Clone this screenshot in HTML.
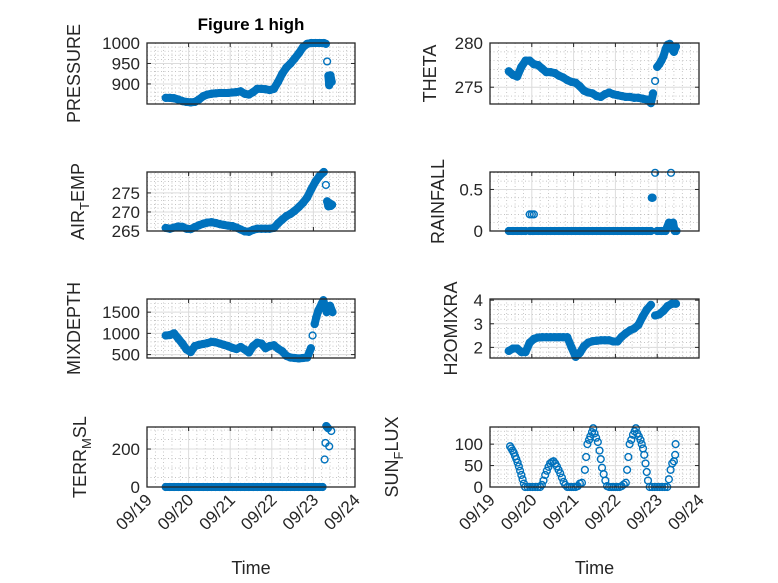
<!DOCTYPE html>
<html><head><meta charset="utf-8"><style>
html,body{margin:0;padding:0;background:#fff;}
svg{display:block;font-family:"Liberation Sans","DejaVu Sans",sans-serif;}
</style></head><body>
<svg id="fig" width="778" height="583" viewBox="0 0 778 583">
<rect width="778" height="583" fill="#fff"/>
<text x="251" y="30" text-anchor="middle" font-weight="bold" font-size="17" fill="#000">Figure 1 high</text>
</svg>
<script>
// shared main time base (days after 09/19)
const tMain = [0.45,0.55,0.65,0.75,0.85,0.95,1.05,1.15,1.25,1.35,1.45,1.55,1.65,1.75,1.85,1.95,2.05,2.15,2.25,2.35,2.45,2.55,2.65,2.75,2.85,2.95,3.05,3.15,3.25,3.35,3.45,3.55,3.65,3.75,3.85];
const xTickLabels = ["09/19","09/20","09/21","09/22","09/23","09/24"];

const pressureV = [866,866,865,862,858,856,855,856,862,870,874,876,877,878,878,878,879,880,882,876,874,880,888,888,887,885,888,905,925,940,950,962,975,990,998];
const pressureTailT = [3.95,4.05,4.15,4.25,4.3,4.33,4.36,4.38,4.41,4.44];
const pressureTailV = [1000,1000,1000,1000,998,955,920,897,921,905];

const thetaV = [276.8,276.4,276.2,277.3,278,278,277.6,277.5,277.1,276.7,276.7,276.6,276.3,276.1,275.8,275.6,275.5,275.1,274.6,274.4,274.3,274.0,273.9,274.2,274.4,274.2,274.1,274.0,273.9,273.9,273.8,273.8,273.7,273.6,273.2];
const thetaTailT = [3.9,3.95,4.0,4.05,4.1,4.15,4.2,4.25,4.3,4.35,4.4,4.45];
const thetaTailV = [274.3,275.7,277.3,277.6,278,278.5,279.3,279.8,279.9,279.3,279,279.6];

const airV = [265.8,265.6,265.9,266.2,266.1,265.6,265.5,266,266.5,266.9,267.2,267.3,267.1,266.8,266.6,266.4,266.3,265.9,265.4,264.9,264.8,265.3,265.6,265.6,265.6,265.6,265.8,267,268,268.9,269.5,270.3,271.3,272.4,273.8];
const airTailT = [3.95,4.05,4.15,4.25,4.3,4.33,4.36,4.39,4.42,4.45];
const airTailV = [276,278,279.5,280.5,277.1,272.8,271.5,272.3,271.6,271.9];

const rainV = [0,0,0,0,0,0.2,0.2,0,0,0,0,0,0,0,0,0,0,0,0,0,0,0,0,0,0,0,0,0,0,0,0,0,0,0,0];
const rainTailT = [0.97,1.0,1.02,0.95,1.05,3.87,3.89,3.95,4.0,4.1,4.2,4.28,4.33,4.38,4.42,4.46];
const rainTailV = [0,0.2,0,0,0,0.4,0.4,0.7,0,0,0,0.1,0.7,0.1,0,0];

const mixV = [950,960,1000,880,760,620,560,700,730,750,770,800,790,760,730,700,660,630,680,620,550,700,780,760,650,700,720,640,580,470,430,420,410,420,430];
const mixTailT = [3.94,3.98,4.03,4.07,4.12,4.2,4.24,4.28,4.32,4.4,4.46];
const mixTailV = [650,950,1220,1380,1540,1700,1780,1620,1500,1650,1500];

const h2oV = [1.85,1.95,1.95,1.8,1.8,2.2,2.36,2.42,2.43,2.43,2.43,2.43,2.43,2.43,2.43,2.0,1.6,1.77,2.05,2.2,2.26,2.28,2.3,2.3,2.3,2.25,2.25,2.45,2.6,2.72,2.8,2.95,3.3,3.6,3.8];
const h2oTailT = [3.95,4.05,4.15,4.25,4.35,4.45];
const h2oTailV = [3.35,3.4,3.55,3.75,3.85,3.85];

const terrV = [0,0,0,0,0,0,0,0,0,0,0,0,0,0,0,0,0,0,0,0,0,0,0,0,0,0,0,0,0,0,0,0,0,0,0];
const terrTailT = [3.95,4.05,4.15,4.22,4.27,4.29,4.31,4.35,4.38,4.43];
const terrTailV = [0,0,0,0,145,232,321,310,214,295];

const sunT = [0.48,0.51,0.54,0.57,0.60,0.63,0.66,0.69,0.72,0.75,0.78,0.81,0.84,0.9,0.96,1.02,1.08,1.14,1.2,1.24,1.28,1.32,1.36,1.40,1.44,1.48,1.52,1.56,1.60,1.64,1.68,1.72,1.76,1.80,1.85,1.9,1.95,2.0,2.05,2.1,2.15,2.2,2.27,2.3,2.33,2.37,2.4,2.44,2.47,2.5,2.54,2.58,2.62,2.65,2.68,2.72,2.76,2.8,2.85,2.9,2.95,3.0,3.05,3.1,3.15,3.2,3.25,3.28,3.31,3.34,3.38,3.42,3.46,3.49,3.52,3.56,3.6,3.63,3.66,3.69,3.72,3.75,3.78,3.82,3.88,3.94,4.0,4.06,4.12,4.18,4.24,4.28,4.32,4.36,4.4,4.43,4.44];
const sunV = [95,90,85,80,72,65,57,48,38,28,18,8,0,0,0,0,0,0,0,5,15,28,38,47,55,58,60,55,48,40,32,22,12,5,0,0,0,0,0,2,8,10,40,70,100,110,118,128,137,125,115,105,85,65,45,30,15,2,0,0,0,0,0,0,2,6,10,40,70,100,110,122,130,137,125,118,110,100,90,75,55,35,15,0,0,0,0,0,0,0,0,18,40,55,60,75,100];

const svg = document.getElementById('fig');
const NS = 'http://www.w3.org/2000/svg';
function mk(tag, attrs, parent){const e=document.createElementNS(NS,tag);for(const k in attrs)e.setAttribute(k,attrs[k]);(parent||svg).appendChild(e);return e;}

function panel(o){
  const g = mk('g',{});
  
  
  const X = d => o.x0 + d/5*(o.x1-o.x0);
  const Y = v => o.y1 - (v-o.ymin)/(o.ymax-o.ymin)*(o.y1-o.y0);
  for(let d=0.2; d<5; d+=0.2){ if(Math.abs(d-Math.round(d))<1e-6) continue;
    mk('line',{x1:X(d),x2:X(d),y1:o.y0,y2:o.y1,stroke:'#b0b0b0','stroke-width':0.7,'stroke-dasharray':'1,2.5'},g);}
  for(let v=Math.ceil(o.ymin/o.minor)*o.minor; v<o.ymax; v+=o.minor){
    mk('line',{x1:o.x0,x2:o.x1,y1:Y(v),y2:Y(v),stroke:'#b0b0b0','stroke-width':0.7,'stroke-dasharray':'1,2.5'},g);}
  for(let d=1; d<5; d++) mk('line',{x1:X(d),x2:X(d),y1:o.y0,y2:o.y1,stroke:'#dcdcdc','stroke-width':1},g);
  o.ticks.forEach(v=>{ mk('line',{x1:o.x0,x2:o.x1,y1:Y(v),y2:Y(v),stroke:'#dcdcdc','stroke-width':1},g);
    mk('line',{x1:o.x0,x2:o.x0+4,y1:Y(v),y2:Y(v),stroke:'#262626','stroke-width':1},g);
    mk('line',{x1:o.x1,x2:o.x1-4,y1:Y(v),y2:Y(v),stroke:'#262626','stroke-width':1},g);
    const t=mk('text',{x:o.x0-7,y:Y(v)+6,'text-anchor':'end','font-size':17,fill:'#262626'},g);
    t.textContent=String(v);
    
    
  });
  for(let d=0; d<=5; d++){ mk('line',{x1:X(d),x2:X(d),y1:o.y1,y2:o.y1-4,stroke:'#262626','stroke-width':1},g);
    mk('line',{x1:X(d),x2:X(d),y1:o.y0,y2:o.y0+4,stroke:'#262626','stroke-width':1},g);}
  const ts = o.t, vs = o.v;
  if(o.dense){
    const idx = ts.map((t,i)=>i).sort((a,b)=>ts[a]-ts[b]);
    for(let k=1;k<idx.length;k++){
      const a=idx[k-1], b=idx[k];
      const dx=X(ts[b])-X(ts[a]), dy=Y(vs[b])-Y(vs[a]);
      if(Math.hypot(dx,dy)<11){
        const s=mk('line',{x1:X(ts[a]),y1:Y(vs[a]),x2:X(ts[b]),y2:Y(vs[b]),stroke:'#0072BD','stroke-width':8,'stroke-linecap':'round'},g);
        
        
      }
    }
  }
  for(let i=0;i<ts.length;i++){
    const c = mk('circle',{cx:X(ts[i]),cy:Y(vs[i]),r:3.4,fill:'none',stroke:'#0072BD','stroke-width':1.4},g);
    
    
  }
  mk('rect',{x:o.x0,y:o.y0,width:o.x1-o.x0,height:o.y1-o.y0,fill:'none',stroke:'#262626','stroke-width':1.3},g);
  if(o.label){
  const lab = mk('text',{transform:`translate(${o.lx},${(o.y0+o.y1)/2}) rotate(-90)`,'text-anchor':'middle','font-size':18,fill:'#262626'},g);
  
  
  if(o.sub){ const a=mk('tspan',{},lab);a.textContent=o.label[0];
    const b=mk('tspan',{'font-size':13,dy:5},lab);b.textContent=o.label[1];
    const c=mk('tspan',{dy:-5},lab);c.textContent=o.label[2]; }
  else lab.textContent=o.label;
  }
  if(o.xlabels){
    for(let d=0; d<=5; d++){
      const t=mk('text',{transform:`translate(${X(d)+6},${o.y1+14}) rotate(-45)`,'text-anchor':'end','font-size':17,fill:'#262626'},g);
      t.textContent=xTickLabels[d];
      
      
    }
    const tl=mk('text',{x:(o.x0+o.x1)/2,y:574,'text-anchor':'middle','font-size':18,fill:'#262626'},g);
    tl.textContent='Time';
    
    
  }
}
const L=[147,355], R=[490,699];
const r1=[43,104], r2=[172,231], r3=[299,358], r4=[427,487];
panel({name:'pressure',dense:true,x0:L[0],x1:L[1],y0:r1[0],y1:r1[1],ymin:851,ymax:1000,ticks:[900,950,1000],minor:10,t:tMain.concat(pressureTailT),v:pressureV.concat(pressureTailV),label:'PRESSURE',lx:80});
panel({name:'theta',dense:true,x0:R[0],x1:R[1],y0:r1[0],y1:r1[1],ymin:273.1,ymax:280,ticks:[275,280],minor:1,t:tMain.concat(thetaTailT),v:thetaV.concat(thetaTailV),label:'THETA',lx:436});
panel({name:'air-temp',dense:true,x0:L[0],x1:L[1],y0:r2[0],y1:r2[1],ymin:265,ymax:280.5,ticks:[265,270,275],minor:1,t:tMain.concat(airTailT),v:airV.concat(airTailV),label:['AIR','T','EMP'],sub:true,lx:84});
panel({name:'rainfall',dense:true,x0:R[0],x1:R[1],y0:r2[0],y1:r2[1],ymin:0,ymax:0.71,ticks:[0,0.5],minor:0.1,t:tMain.concat(rainTailT),v:rainV.concat(rainTailV),label:'RAINFALL',lx:444});
panel({name:'mixdepth',dense:true,x0:L[0],x1:L[1],y0:r3[0],y1:r3[1],ymin:420,ymax:1810,ticks:[500,1000,1500],minor:100,t:tMain.concat(mixTailT),v:mixV.concat(mixTailV),label:'MIXDEPTH',lx:80});
panel({name:'h2omixra',dense:true,x0:R[0],x1:R[1],y0:r3[0],y1:r3[1],ymin:1.55,ymax:4.05,ticks:[2,3,4],minor:0.2,t:tMain.concat(h2oTailT),v:h2oV.concat(h2oTailV),label:'H2OMIXRA',lx:457});
panel({name:'terr-msl',dense:true,x0:L[0],x1:L[1],y0:r4[0],y1:r4[1],ymin:0,ymax:316,ticks:[0,200],minor:50,t:tMain.concat(terrTailT),v:terrV.concat(terrTailV),label:['TERR','M','SL'],sub:true,lx:86,xlabels:true});
panel({name:'sun-flux',x0:R[0],x1:R[1],y0:r4[0],y1:r4[1],ymin:0,ymax:140,ticks:[0,50,100],minor:10,t:sunT,v:sunV,label:['SUN','F','LUX'],sub:true,lx:398,xlabels:true});
</script>
</body></html>
